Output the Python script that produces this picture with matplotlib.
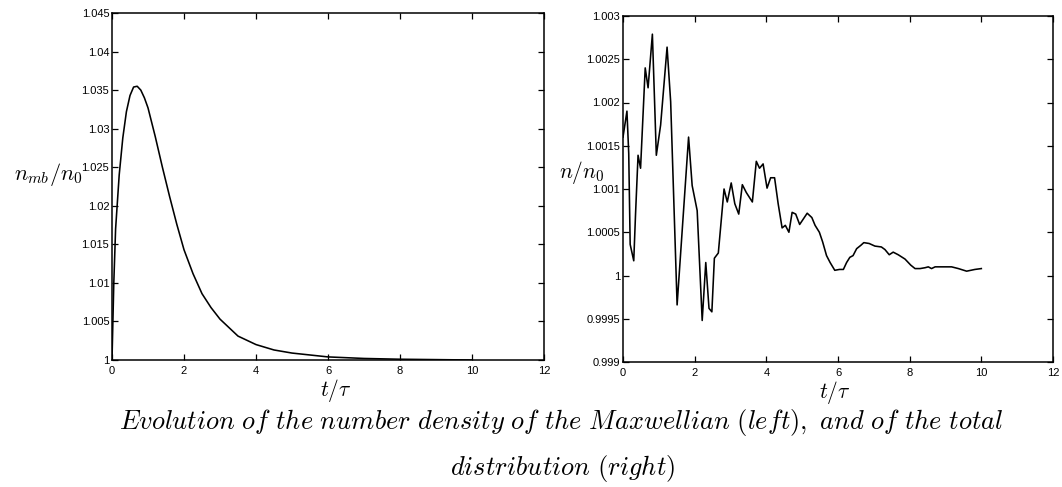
import matplotlib
matplotlib.use("Agg")
import matplotlib.pyplot as plt

plt.rcParams['mathtext.fontset'] = 'cm'
plt.rcParams['font.family'] = ['Liberation Sans', 'DejaVu Sans']

# ---- data: Maxwellian number density (left)
t_mb = [0, 0.05, 0.1, 0.15, 0.2, 0.3, 0.4, 0.5, 0.6, 0.7, 0.8, 0.9, 1.0, 1.2, 1.4,
        1.6, 1.8, 2.0, 2.25, 2.5, 2.75, 3.0, 3.5, 4.0, 4.5, 5.0, 6.0, 7.0, 8.0, 9.0, 10.0]
n_mb = [1.0000, 1.0100, 1.0170, 1.0205, 1.0240, 1.0288, 1.0322, 1.0343, 1.0354, 1.0355,
        1.0350, 1.0340, 1.0327, 1.0290, 1.0250, 1.0212, 1.0176, 1.0143, 1.0112, 1.0086,
        1.0068, 1.0053, 1.0031, 1.0020, 1.0013, 1.0009, 1.0004, 1.0002, 1.0001, 1.00005,
        1.0000]

# ---- data: total distribution number density (right)
t_tot = [0, 0.11, 0.16, 0.2, 0.3, 0.35, 0.42, 0.49, 0.62, 0.7, 0.82, 0.93, 1.05, 1.23,
         1.33, 1.51, 1.83, 1.93, 2.07, 2.21, 2.31, 2.40, 2.48, 2.55, 2.66, 2.82, 2.91,
         3.02, 3.12, 3.23, 3.33, 3.44, 3.61, 3.72, 3.81, 3.91, 4.02, 4.12, 4.23, 4.33,
         4.44, 4.53, 4.63, 4.72, 4.82, 4.93, 5.14, 5.27, 5.36, 5.48, 5.57, 5.68, 5.78,
         5.91, 6.04, 6.15, 6.24, 6.33, 6.42, 6.52, 6.64, 6.72, 6.87, 7.03, 7.21, 7.31,
         7.43, 7.54, 7.68, 7.87, 8.03, 8.15, 8.29, 8.43, 8.52, 8.61, 8.71, 8.94, 9.17,
         9.36, 9.59, 9.82, 10.0]
n_tot = [1.00160, 1.00190, 1.00141, 1.00036, 1.00017, 1.00071, 1.00139, 1.00124,
         1.00240, 1.00217, 1.00279, 1.00139, 1.00174, 1.00264, 1.00201, 0.99966,
         1.00160, 1.00104, 1.00075, 0.99948, 1.00015, 0.99962, 0.99958, 1.00020,
         1.00026, 1.00100, 1.00085, 1.00107, 1.00083, 1.00071, 1.00105, 1.00096,
         1.00085, 1.00132, 1.00124, 1.00129, 1.00101, 1.00113, 1.00113, 1.00083,
         1.00055, 1.00058, 1.00050, 1.00073, 1.00071, 1.00059, 1.00072, 1.00067,
         1.00058, 1.00050, 1.00039, 1.00023, 1.00015, 1.00006, 1.00007, 1.00007,
         1.00015, 1.00021, 1.00023, 1.00031, 1.00035, 1.00038, 1.00037, 1.00034,
         1.00033, 1.00030, 1.00024, 1.00027, 1.00024, 1.00019, 1.00012, 1.00008,
         1.00008, 1.00009, 1.00010, 1.00008, 1.00010, 1.00010, 1.00010, 1.00008,
         1.00005, 1.00007, 1.00008]

x_ticks = [0, 2, 4, 6, 8, 10, 12]
x_ticklabels = ['0', '2', '4', '6', '8', '10', '12']
left_yticks = [1.0, 1.005, 1.01, 1.015, 1.02, 1.025, 1.03, 1.035, 1.04, 1.045]
left_yticklabels = ['1', '1.005', '1.01', '1.015', '1.02', '1.025', '1.03', '1.035',
                    '1.04', '1.045']
right_yticks = [0.999, 0.9995, 1.0, 1.0005, 1.001, 1.0015, 1.002, 1.0025, 1.003]
right_yticklabels = ['0.999', '0.9995', '1', '1.0005', '1.001', '1.0015', '1.002',
                     '1.0025', '1.003']

W, H = 1062, 487
fig = plt.figure(figsize=(W / 100, H / 100), dpi=100)


def px_axes(x0, y0, x1, y1):
    return fig.add_axes([x0 / W, 1 - y1 / H, (x1 - x0) / W, (y1 - y0) / H])


ax1 = px_axes(112, 13, 544, 360)
ax2 = px_axes(623, 16, 1053, 362)

ax1.plot(t_mb, n_mb, color='black', lw=1.15)
ax2.plot(t_tot, n_tot, color='black', lw=1.15)

for ax, yt, ytl, ylim in [(ax1, left_yticks, left_yticklabels, (1.0, 1.045)),
                          (ax2, right_yticks, right_yticklabels, (0.999, 1.003))]:
    ax.set_xlim(0, 12)
    ax.set_ylim(*ylim)
    ax.set_xticks(x_ticks)
    ax.set_xticklabels(x_ticklabels)
    ax.set_yticks(yt)
    ax.set_yticklabels(ytl)
    ax.tick_params(direction='in', length=4, width=0.9, top=True, right=True,
                   labelsize=8)
    ax.tick_params(axis='x', pad=4)
    ax.tick_params(axis='y', pad=2)
    for s in ax.spines.values():
        s.set_linewidth(1.1)

# axis labels
fig.text(48 / W, 1 - 174 / H, r'$n_{mb}/n_0$', fontsize=16, ha='center', va='center')
fig.text(582 / W, 1 - 172 / H, r'$n/n_0$', fontsize=15.5, ha='center', va='center')
fig.text(336 / W, 1 - 391 / H, r'$t/\tau$', fontsize=15.5, ha='center', va='center')
fig.text(835 / W, 1 - 392 / H, r'$t/\tau$', fontsize=15.5, ha='center', va='center')

# caption
fig.text(561 / W, 1 - 422 / H,
         r'$\mathit{Evolution\ of\ the\ number\ density\ of\ the\ Maxwellian\ (left),\ and\ of\ the\ total}$',
         fontsize=19, ha='center', va='center')
fig.text(563 / W, 1 - 469 / H, r'$\mathit{distribution\ (right)}$',
         fontsize=19, ha='center', va='center')

fig.savefig('out.png', dpi=100)
